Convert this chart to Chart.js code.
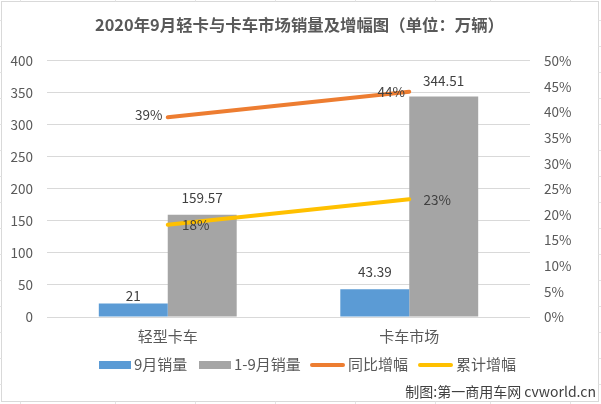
<!DOCTYPE html>
<html>
<head>
<meta charset="utf-8">
<style>
  html, body { margin: 0; padding: 0; background: #fff; }
  canvas { display: block; }
</style>
<script src="https://cdn.jsdelivr.net/npm/chart.js@4/dist/chart.umd.min.js"></script>
</head>
<body>
<canvas id="chart" width="601" height="404"></canvas>
<script>
const categories = ['轻型卡车', '卡车市场'];
const monthSales = [21, 43.39];
const ytdSales = [159.57, 344.51];
const yoyGrowth = [39, 44];
const ytdGrowth = [18, 23];
const leftTicks = [0, 50, 100, 150, 200, 250, 300, 350, 400];
const rightTicks = [0, 5, 10, 15, 20, 25, 30, 35, 40, 45, 50];

const FONT = '"Noto Sans CJK SC", "Noto Sans", sans-serif';
const GREY = '#595959';

// Excel moved some labels by hand, so each one has its own offset from the mark
const labelOffsets = [
    [[0, -8], [0, -17]],
    [[0, -17], [0, -16]],
    [[-19, -2], [-18, 0]],
    [[28, 0], [28, 1]]
];

const dataLabels = {
    id: 'dataLabels',
    afterDatasetsDraw(chart) {
        const ctx = chart.ctx;
        ctx.save();
        ctx.font = '13.5px ' + FONT;
        ctx.fillStyle = '#404040';
        ctx.textAlign = 'center';
        ctx.textBaseline = 'middle';
        chart.data.datasets.forEach((ds, i) => {
            chart.getDatasetMeta(i).data.forEach((el, j) => {
                const text = ds.type === 'line' ? ds.data[j] + '%' : String(ds.data[j]);
                const off = labelOffsets[i][j];
                ctx.fillText(text, el.x + off[0], el.y + off[1]);
            });
        });
        ctx.restore();
    }
};

// Legend, credit line and frame, placed the way the Excel chart has them
const legendAndCredit = {
    id: 'legendAndCredit',
    afterDraw(chart) {
        const ctx = chart.ctx;
        const slots = [99, 199, 310, 418];
        ctx.save();
        ctx.font = '15px ' + FONT;
        ctx.textBaseline = 'middle';
        chart.data.datasets.forEach((ds, i) => {
            const x = slots[i];
            if (ds.type === 'line') {
                ctx.strokeStyle = ds.borderColor;
                ctx.lineWidth = 4;
                ctx.lineCap = 'round';
                ctx.beginPath();
                ctx.moveTo(x + 2, 365);
                ctx.lineTo(x + 33, 365);
                ctx.stroke();
            } else {
                ctx.fillStyle = ds.backgroundColor;
                ctx.fillRect(x, 361, 32, 8);
            }
            ctx.fillStyle = GREY;
            ctx.fillText(ds.label, x + (ds.type === 'line' ? 38 : 35), 364);
        });
        ctx.font = '14px ' + FONT;
        ctx.fillStyle = '#404040';
        ctx.textAlign = 'right';
        ctx.fillText('制图:第一商用车网 cvworld.cn', 596, 392);

        ctx.strokeStyle = '#d9d9d9';
        ctx.lineWidth = 1;
        ctx.strokeRect(1.5, 1.5, 597, 400);

        // bits of the spreadsheet grid that show outside the frame
        ctx.strokeStyle = '#e4e4e4';
        ctx.beginPath();
        [20, 115, 195, 275, 355, 435, 490, 570].forEach(x => {
            ctx.moveTo(x + 0.5, 0);
            ctx.lineTo(x + 0.5, 1);
            ctx.moveTo(x + 0.5, 402);
            ctx.lineTo(x + 0.5, 404);
        });
        for (let y = 20; y < 400; y += 26) {
            ctx.moveTo(0, y + 0.5);
            ctx.lineTo(1, y + 0.5);
            ctx.moveTo(599, y + 0.5);
            ctx.lineTo(601, y + 0.5);
        }
        ctx.stroke();
        ctx.restore();
    }
};

new Chart(document.getElementById('chart'), {
    type: 'bar',
    data: {
        labels: categories,
        datasets: [
            { type: 'bar', label: '9月销量', data: monthSales, backgroundColor: '#5b9bd5', yAxisID: 'y', order: 2 },
            { type: 'bar', label: '1-9月销量', data: ytdSales, backgroundColor: '#a5a5a5', yAxisID: 'y', order: 3 },
            { type: 'line', label: '同比增幅', data: yoyGrowth, borderColor: '#ed7d31', yAxisID: 'y1', order: 1 },
            { type: 'line', label: '累计增幅', data: ytdGrowth, borderColor: '#ffc000', yAxisID: 'y1', order: 0 }
        ]
    },
    options: {
        responsive: false,
        animation: false,
        layout: { padding: { top: 15, right: 2 } },
        datasets: {
            bar: { categoryPercentage: 0.571, barPercentage: 1 },
            line: { borderWidth: 4, borderCapStyle: 'round', pointRadius: 0, tension: 0 }
        },
        plugins: {
            legend: { display: false },
            tooltip: { enabled: false },
            title: {
                display: true,
                text: '2020年9月轻卡与卡车市场销量及增幅图（单位：万辆）',
                color: GREY,
                font: { family: FONT, size: 16.4, weight: 'bold' },
                padding: { top: 0, bottom: 26.3 }
            }
        },
        scales: {
            x: {
                grid: { display: false, drawTicks: false },
                border: { display: false },
                ticks: { color: GREY, font: { family: FONT, size: 15 }, padding: 10 },
                afterFit(scale) { scale.height = 87; }
            },
            y: {
                position: 'left',
                min: 0,
                max: 400,
                afterBuildTicks(scale) { scale.ticks = leftTicks.map(value => ({ value })); },
                grid: { color: '#d9d9d9', drawTicks: false },
                border: { display: false },
                ticks: { color: GREY, font: { family: FONT, size: 13.5 }, padding: 14 },
                afterFit(scale) { scale.width = 47; }
            },
            y1: {
                position: 'right',
                min: 0,
                max: 50,
                afterBuildTicks(scale) { scale.ticks = rightTicks.map(value => ({ value })); },
                grid: { display: false, drawTicks: false },
                border: { display: false },
                ticks: { color: GREY, font: { family: FONT, size: 13.5 }, padding: 14, callback: v => v + '%' },
                afterFit(scale) { scale.width = 69; }
            }
        }
    },
    plugins: [dataLabels, legendAndCredit]
});
</script>
</body>
</html>
